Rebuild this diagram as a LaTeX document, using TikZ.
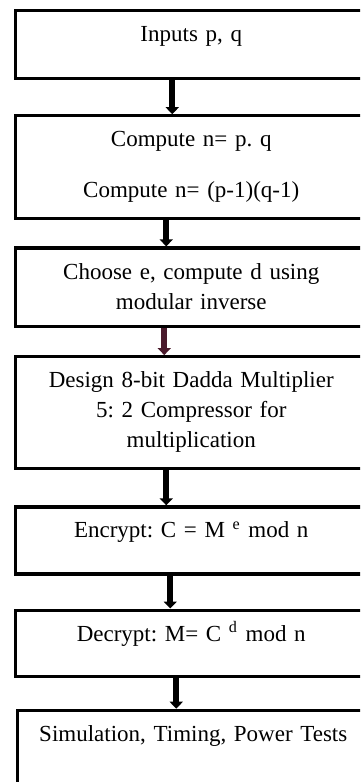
\documentclass[tikz,border=0pt]{standalone}
\usepackage{fontspec}
\setmainfont{Liberation Serif}
\usepackage{tikz}
\usetikzlibrary{arrows.meta,positioning}
\usepackage{xcolor}
\definecolor{maroon}{HTML}{4A1A2C}
\frenchspacing

\begin{document}
\begin{tikzpicture}[
    x=0.5pt, y=-0.5pt,
    node distance=15pt,
    block/.style={rectangle, draw, line width=1.6pt, inner sep=0pt,
                  minimum width=175.75pt, text width=172pt, align=center,
                  text height=15.5pt, font=\fontsize{11.5}{15}\selectfont},
    arrow/.style={-{Triangle[width=6.5pt,length=3.5pt]}, line width=3pt}
]
\path[use as bounding box, fill=white] (0,0) rectangle (360,782);
\clip (0,0) rectangle (360,782);

\node[block, anchor=north, text depth=18.25pt] (s1) at (191.25,9) {Inputs p, q};
\node[block, below=17.25pt of s1, text depth=35.75pt] (s2)
    {Compute n= p. q\\[10.5pt]Compute n= (p-1)(q-1)};
\node[block, below=13.25pt of s2, text depth=23.75pt] (s3)
    {Choose e, compute d using\\ modular inverse};
\node[block, below=13.5pt of s3, text depth=40.5pt] (s4)
    {Design 8-bit Dadda Multiplier\\ 5: 2 Compressor for\\ multiplication};
\node[block, below=17.5pt of s4, text depth=18pt] (s5)
    {Encrypt: C = M \textsuperscript{e} mod n};
\node[block, below=16.5pt of s5, text depth=17.5pt] (s6)
    {Decrypt: M= C \textsuperscript{d} mod n};
\node[block, below=15.5pt of s6, xshift=1pt, text depth=29.5pt] (s7)
    {Simulation, Timing, Power Tests};

\foreach \a/\b/\dx/\c in {s1/s2/-9.5pt/black, s2/s3/-12.5pt/black,
                          s3/s4/-13.5pt/maroon, s4/s5/-12.5pt/black,
                          s5/s6/-10.5pt/black, s6/s7/-7.5pt/black}
    \draw[arrow, \c] ([xshift=\dx]\a.south) -- ([xshift=\dx]\a.south |- \b.north);
\end{tikzpicture}
\end{document}
